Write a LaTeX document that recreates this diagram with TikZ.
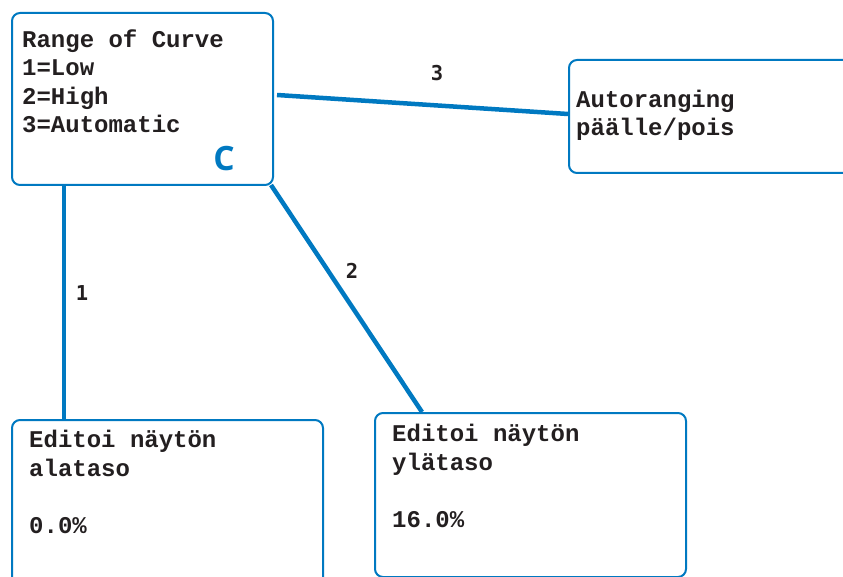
\documentclass[tikz,border=0pt]{standalone}
\usepackage{fontspec}
\setmonofont{Liberation Mono}
\newfontfamily\labelfont{DejaVu Sans Mono}
\newfontfamily\cfont{Open Sans}
\usetikzlibrary{calc}
\definecolor{lineblue}{HTML}{0079C1}
\definecolor{ink}{HTML}{231F20}
\begin{document}
\begin{tikzpicture}[x=1pt,y=-1pt,
  box/.style={draw=lineblue,line width=2pt,rounded corners=8pt,inner sep=0pt,anchor=north west},
  txt/.style={font=\ttfamily\bfseries\fontsize{24}{28.5}\selectfont,text=ink,align=left,inner sep=0pt,anchor=base west},
  conn/.style={draw=lineblue,line width=4.5pt},
  lbl/.style={font=\labelfont\bfseries\fontsize{20.5}{24}\selectfont,text=ink,inner sep=0pt}]
\useasboundingbox (0,0) rectangle (843,577);
\clip (0,0) rectangle (843,577);
% boxes
\node[box,minimum width=261pt,minimum height=172pt] (tl) at (11,12) {};
\node[box,minimum width=300pt,minimum height=113pt] (rt) at (568,59) {};
\node[box,minimum width=311pt,minimum height=180pt] (bl) at (11,419) {};
\node[box,minimum width=311pt,minimum height=164pt] (bm) at (374,412) {};
% texts (anchored at the baseline of their last line)
\node[txt] (tltext) at ($(tl.north west)+(11,121)$) {Range of Curve\\1=Low\\2=High\\3=Automatic};
\node[txt] (rttext) at ($(rt.north west)+(8,77)$) {Autoranging\\päälle/pois};
\node[txt] (bltext) at ($(bl.north west)+(18,114)$) {Editoi näytön\\alataso\\[28.5pt]0.0\%};
\node[txt] (bmtext) at ($(bm.north west)+(18,115)$) {Editoi näytön\\ylätaso\\[28.5pt]16.0\%};
\node[font=\cfont\bfseries\fontsize{33.5}{36}\selectfont,text=lineblue,inner sep=0pt] (cmark) at (224,159) {C};
% connectors
\coordinate (c1a) at ($(tl.south west)+(53,0)$);
\coordinate (c1b) at (c1a |- bl.north);
\coordinate (c2a) at ($(tl.south east)+(-3,-1)$);
\coordinate (c2b) at ($(bm.north west)+(48,0)$);
\coordinate (c3a) at ($(tl.north east)+(3,83)$);
\coordinate (c3b) at ($(rt.north west)+(0,55)$);
\draw[conn] (c1a) -- (c1b);
\draw[conn] (c2a) -- (c2b);
\draw[conn] (c3a) -- (c3b);
% labels
\node[lbl] (l1) at (82,293) {1};
\node[lbl] (l2) at (352,271) {2};
\node[lbl] (l3) at (437,73) {3};
\end{tikzpicture}
\end{document}
